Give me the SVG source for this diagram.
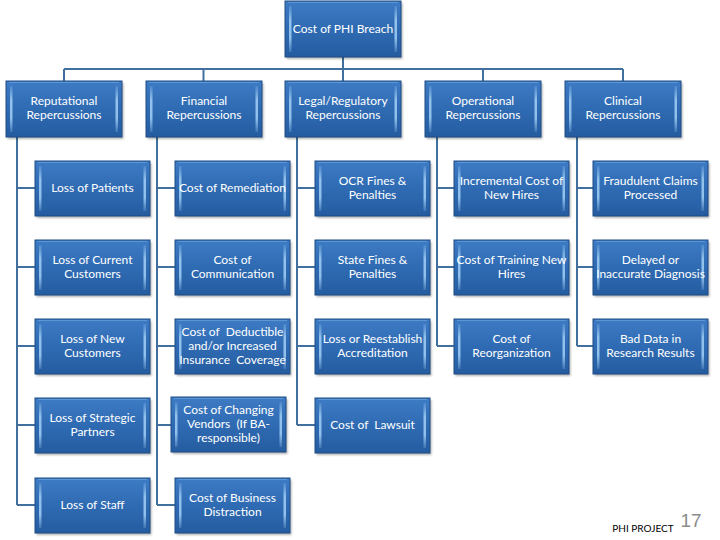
<svg xmlns="http://www.w3.org/2000/svg" xmlns:xlink="http://www.w3.org/1999/xlink" width="720" height="540" viewBox="0 0 720 540">
<style>
.lbl{font-family:Lato,"Open Sans","Liberation Sans",sans-serif;font-size:12px;fill:#ffffff;text-anchor:middle}
.conn{stroke:#41709f;stroke-width:2;fill:none}
</style>
<defs>
<linearGradient id="gFill" x1="0" y1="0" x2="0" y2="1">
<stop offset="0" stop-color="#3d7bc4"/>
<stop offset="0.5" stop-color="#2f6bb3"/>
<stop offset="1" stop-color="#255ca0"/>
</linearGradient>
<linearGradient id="gStrip" x1="0" y1="0" x2="0" y2="1">
<stop offset="0" stop-color="#9ccaf2" stop-opacity="0.2"/>
<stop offset="0.3" stop-color="#9ccaf2" stop-opacity="0.9"/>
<stop offset="0.7" stop-color="#9ccaf2" stop-opacity="0.9"/>
<stop offset="1" stop-color="#9ccaf2" stop-opacity="0.2"/>
</linearGradient>
<filter id="sh" x="-10%" y="-10%" width="130%" height="140%">
<feGaussianBlur stdDeviation="1.2"/>
</filter>
<g id="box">
<rect x="1.5" y="2" width="115" height="55" fill="#000" opacity="0.3" filter="url(#sh)"/>
<rect x="0" y="0" width="115" height="55" fill="url(#gFill)" stroke="#1e4c84" stroke-width="1"/>
<rect x="4" y="5" width="2.5" height="45" fill="url(#gStrip)"/>
<rect x="108.5" y="5" width="2.5" height="45" fill="url(#gStrip)"/>
<line x1="3" y1="1.5" x2="112" y2="1.5" stroke="#7fb2e6" stroke-opacity="0.5" stroke-width="1"/>
</g>
<g id="boxL">
<rect x="1.5" y="2" width="116" height="56" fill="#000" opacity="0.3" filter="url(#sh)"/>
<rect x="0" y="0" width="116" height="56" fill="url(#gFill)" stroke="#1e4c84" stroke-width="1"/>
<rect x="4" y="5" width="2.5" height="46" fill="url(#gStrip)"/>
<rect x="109.5" y="5" width="2.5" height="46" fill="url(#gStrip)"/>
<line x1="3" y1="1.5" x2="113" y2="1.5" stroke="#7fb2e6" stroke-opacity="0.5" stroke-width="1"/>
</g>
</defs>
<rect width="720" height="540" fill="#ffffff"/>

<g id="connectors">
<path class="conn" d="M343 57 V69 M64 69 H623 M64 69 V81 M203.5 69 V81 M343 69 V81 M483 69 V81 M623 69 V81"/>
<path class="conn" d="M17 137 V505 M17 188 H35 M17 267 H35 M17 346 H35 M17 425 H35 M17 505 H35"/>
<path class="conn" d="M157 137 V505 M157 188 H175 M157 267 H175 M157 346 H175 M157 425 H171 M157 505 H175"/>
<path class="conn" d="M297 137 V425 M297 188 H315 M297 267 H315 M297 346 H315 M297 425 H315"/>
<path class="conn" d="M437 137 V346 M437 188 H454 M437 267 H454 M437 346 H454"/>
<path class="conn" d="M577 137 V346 M577 188 H593 M577 267 H593 M577 346 H593"/>
</g>

<g id="root" transform="translate(285,1)"><use xlink:href="#boxL"/><text class="lbl" x="58" y="32">Cost of PHI Breach</text></g>

<g id="reputational" transform="translate(6,81)"><use xlink:href="#boxL"/><text class="lbl" x="58" y="24">Reputational</text><text class="lbl" x="58" y="38">Repercussions</text></g>
<g id="financial" transform="translate(146,81)"><use xlink:href="#boxL"/><text class="lbl" x="58" y="24">Financial</text><text class="lbl" x="58" y="38">Repercussions</text></g>
<g id="legal" transform="translate(285,81)"><use xlink:href="#boxL"/><text class="lbl" x="58" y="24">Legal/Regulatory</text><text class="lbl" x="58" y="38">Repercussions</text></g>
<g id="operational" transform="translate(425,81)"><use xlink:href="#boxL"/><text class="lbl" x="58" y="24">Operational</text><text class="lbl" x="58" y="38">Repercussions</text></g>
<g id="clinical" transform="translate(565,81)"><use xlink:href="#boxL"/><text class="lbl" x="58" y="24">Clinical</text><text class="lbl" x="58" y="38">Repercussions</text></g>

<g id="loss-patients" transform="translate(35,161)"><use xlink:href="#box"/><text class="lbl" x="57.5" y="31">Loss of Patients</text></g>
<g id="loss-current" transform="translate(35,240)"><use xlink:href="#box"/><text class="lbl" x="57.5" y="24">Loss of Current</text><text class="lbl" x="57.5" y="38">Customers</text></g>
<g id="loss-new" transform="translate(35,319)"><use xlink:href="#box"/><text class="lbl" x="57.5" y="24">Loss of New</text><text class="lbl" x="57.5" y="38">Customers</text></g>
<g id="loss-strategic" transform="translate(35,398)"><use xlink:href="#box"/><text class="lbl" x="57.5" y="24">Loss of Strategic</text><text class="lbl" x="57.5" y="38">Partners</text></g>
<g id="loss-staff" transform="translate(35,478)"><use xlink:href="#box"/><text class="lbl" x="57.5" y="31">Loss of Staff</text></g>

<g id="cost-remediation" transform="translate(175,161)"><use xlink:href="#box"/><text class="lbl" x="57.5" y="31">Cost of Remediation</text></g>
<g id="cost-communication" transform="translate(175,240)"><use xlink:href="#box"/><text class="lbl" x="57.5" y="24">Cost of</text><text class="lbl" x="57.5" y="38">Communication</text></g>
<g id="cost-deductible" transform="translate(175,319)"><use xlink:href="#box"/><text class="lbl" x="57.5" y="17" xml:space="preserve">Cost of  Deductible</text><text class="lbl" x="57.5" y="31">and/or Increased</text><text class="lbl" x="57.5" y="45" xml:space="preserve">Insurance  Coverage</text></g>
<g id="cost-vendors" transform="translate(171,397)"><use xlink:href="#box"/><text class="lbl" x="57.5" y="17">Cost of Changing</text><text class="lbl" x="57.5" y="31" xml:space="preserve">Vendors  (If BA-</text><text class="lbl" x="57.5" y="45">responsible)</text></g>
<g id="cost-distraction" transform="translate(175,478)"><use xlink:href="#box"/><text class="lbl" x="57.5" y="24">Cost of Business</text><text class="lbl" x="57.5" y="38">Distraction</text></g>

<g id="ocr-fines" transform="translate(315,161)"><use xlink:href="#box"/><text class="lbl" x="57.5" y="24">OCR Fines &amp;</text><text class="lbl" x="57.5" y="38">Penalties</text></g>
<g id="state-fines" transform="translate(315,240)"><use xlink:href="#box"/><text class="lbl" x="57.5" y="24">State Fines &amp;</text><text class="lbl" x="57.5" y="38">Penalties</text></g>
<g id="accreditation" transform="translate(315,319)"><use xlink:href="#box"/><text class="lbl" x="57.5" y="24">Loss or Reestablish</text><text class="lbl" x="57.5" y="38">Accreditation</text></g>
<g id="lawsuit" transform="translate(315,398)"><use xlink:href="#box"/><text class="lbl" x="57.5" y="31" xml:space="preserve">Cost of  Lawsuit</text></g>

<g id="new-hires" transform="translate(454,161)"><use xlink:href="#box"/><text class="lbl" x="57.5" y="24">Incremental Cost of</text><text class="lbl" x="57.5" y="38">New Hires</text></g>
<g id="training" transform="translate(454,240)"><use xlink:href="#box"/><text class="lbl" x="57.5" y="24">Cost of Training New</text><text class="lbl" x="57.5" y="38">Hires</text></g>
<g id="reorganization" transform="translate(454,319)"><use xlink:href="#box"/><text class="lbl" x="57.5" y="24">Cost of</text><text class="lbl" x="57.5" y="38">Reorganization</text></g>

<g id="fraudulent" transform="translate(593,161)"><use xlink:href="#box"/><text class="lbl" x="57.5" y="24">Fraudulent Claims</text><text class="lbl" x="57.5" y="38">Processed</text></g>
<g id="diagnosis" transform="translate(593,240)"><use xlink:href="#box"/><text class="lbl" x="57.5" y="24">Delayed or</text><text class="lbl" x="57.5" y="38">Inaccurate Diagnosis</text></g>
<g id="bad-data" transform="translate(593,319)"><use xlink:href="#box"/><text class="lbl" x="57.5" y="24">Bad Data in</text><text class="lbl" x="57.5" y="38">Research Results</text></g>

<text x="643" y="532" font-family="Lato,'Open Sans','Liberation Sans',sans-serif" font-size="10" fill="#000000" text-anchor="middle">PHI PROJECT</text>
<text x="691" y="527" font-family="'Liberation Sans',Arial,sans-serif" font-size="19" fill="#8c8c8c" text-anchor="middle">17</text>
</svg>
